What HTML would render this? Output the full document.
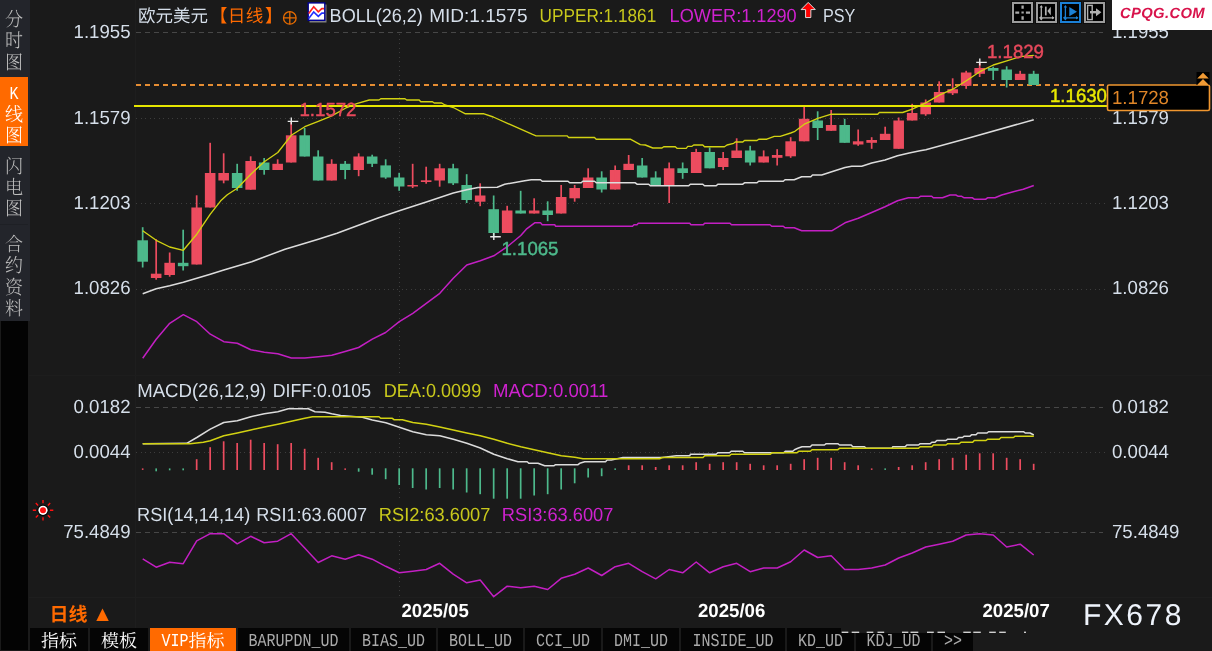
<!DOCTYPE html>
<html lang="zh-CN">
<head>
<meta charset="utf-8">
<title>欧元美元 日线</title>
<style>
html,body{margin:0;padding:0;background:#1a1a1a;}
body{width:1212px;height:651px;overflow:hidden;position:relative;font-family:"Liberation Sans", "Noto Sans CJK SC", sans-serif;text-rendering:geometricPrecision;}
#chart{position:absolute;left:0;top:0;width:1212px;height:651px;font-family:"Liberation Sans", "Noto Sans CJK SC", sans-serif;text-rendering:geometricPrecision;}
#side{position:absolute;left:0;top:0;width:29.5px;height:321px;background:#23252b;}
#sideblk{position:absolute;left:1px;top:321px;width:27px;height:329px;background:#030303;}
.stab{position:absolute;left:0;width:28px;box-sizing:border-box;color:#bdbdbd;font-family:"Liberation Serif", "Noto Serif CJK SC", serif;font-size:18px;font-weight:300;text-align:center;}
.stab span{display:block;height:21.25px;line-height:21.25px;transform:scaleY(1.07);transform-origin:50% 45%;}
  .stab span.k{position:relative;top:1.5px;font-family:"Liberation Mono",monospace;font-size:15px;transform:scaleY(1.22);transform-origin:50% 62%;}
.stab.act{background:#ff6a00;color:#fff;}
#tabbar{position:absolute;left:28px;top:628px;width:945px;height:23px;background:#1a1a1a;}
.btab{position:absolute;top:628px;height:23px;font-family:"Liberation Serif", "Noto Serif CJK SC", serif;font-size:18px;line-height:26px;text-align:center;white-space:nowrap;overflow:hidden;}
.btab i{display:inline-block;position:relative;top:-1.5px;font-style:normal;font-family:"Liberation Mono",monospace;font-size:15px;transform:scaleY(1.22);transform-origin:50% 62%;}
#cover{position:absolute;left:841px;top:628px;width:371px;height:5px;background:#1a1a1a;}
#period{position:absolute;left:49.5px;top:604.2px;height:24px;line-height:24px;color:#ff6a00;font-family:"Liberation Sans", "Noto Sans CJK SC", sans-serif;font-weight:bold;font-size:19px;white-space:nowrap;}
#logo{position:absolute;left:1112px;top:0;width:100px;height:30px;background:#fff;color:#d8134b;font-style:italic;font-weight:bold;font-size:14.8px;line-height:28.4px;text-align:center;letter-spacing:0.35px;text-indent:1px;}
#wm{position:absolute;left:1083px;top:599.4px;height:34px;line-height:34px;color:#eef3fb;font-size:30px;letter-spacing:2.5px;white-space:nowrap;}
.tb{position:absolute;top:2px;width:21px;height:21px;box-sizing:border-box;border:2px solid #9c9c9c;background:#000;box-shadow:0 0 0 1px #0d0d0d;}
.tb svg{position:absolute;left:-2px;top:-2px;}
</style>
</head>
<body>
<svg id="chart" width="1212" height="651" viewBox="0 0 1212 651">
<g shape-rendering="crispEdges">
<line x1="136" y1="32.5" x2="1103" y2="32.5" stroke="#474747" stroke-width="1" stroke-dasharray="5 4"/>
<line x1="136" y1="118.5" x2="1106" y2="118.5" stroke="#3d3d3d" stroke-width="1" stroke-dasharray="1.2 3.3"/>
<line x1="136" y1="203.5" x2="1106" y2="203.5" stroke="#3d3d3d" stroke-width="1" stroke-dasharray="1.2 3.3"/>
<line x1="136" y1="289.5" x2="1106" y2="289.5" stroke="#3d3d3d" stroke-width="1" stroke-dasharray="1.2 3.3"/>
<line x1="136" y1="407.5" x2="1103" y2="407.5" stroke="#474747" stroke-width="1" stroke-dasharray="5 4"/>
<line x1="136" y1="452.5" x2="1106" y2="452.5" stroke="#3d3d3d" stroke-width="1" stroke-dasharray="1.2 3.3"/>
<line x1="136" y1="532.5" x2="1103" y2="532.5" stroke="#474747" stroke-width="1" stroke-dasharray="5 4"/>
<line x1="399.5" y1="34" x2="399.5" y2="375" stroke="#3d3d3d" stroke-width="1" stroke-dasharray="1.2 3.3"/>
<line x1="399.5" y1="411" x2="399.5" y2="498" stroke="#3d3d3d" stroke-width="1" stroke-dasharray="1.2 3.3"/>
<line x1="399.5" y1="536" x2="399.5" y2="597" stroke="#3d3d3d" stroke-width="1" stroke-dasharray="1.2 3.3"/>
<line x1="135.5" y1="0" x2="135.5" y2="628" stroke="#1e1e1e" stroke-width="1"/>
<line x1="29" y1="375.5" x2="1212" y2="375.5" stroke="#1d1d1d" stroke-width="1"/>
<line x1="29" y1="597.5" x2="1212" y2="597.5" stroke="#1e1e1e" stroke-width="1"/>
</g>
<line x1="136" y1="85" x2="1107" y2="85" stroke="#e58d33" stroke-width="2" stroke-dasharray="5 4" shape-rendering="crispEdges"/>
<rect x="137.37" y="240.3" width="10.6" height="21.4" fill="#4db98b"/>
<rect x="150.87" y="273.7" width="10.6" height="4.3" fill="#ec4c5f"/>
<rect x="164.37" y="262.8" width="10.6" height="12.2" fill="#ec4c5f"/>
<rect x="177.87" y="262.8" width="10.6" height="3.4" fill="#4db98b"/>
<rect x="191.37" y="207.5" width="10.6" height="57" fill="#ec4c5f"/>
<rect x="204.87" y="173" width="10.6" height="34.5" fill="#ec4c5f"/>
<rect x="218.37" y="173" width="10.6" height="7.5" fill="#ec4c5f"/>
<rect x="231.87" y="173" width="10.6" height="15" fill="#4db98b"/>
<rect x="245.37" y="161" width="10.6" height="28.7" fill="#ec4c5f"/>
<rect x="258.87" y="162.5" width="10.6" height="7.5" fill="#4db98b"/>
<rect x="272.37" y="163.8" width="10.6" height="6.2" fill="#ec4c5f"/>
<rect x="285.87" y="135.3" width="10.6" height="27.2" fill="#ec4c5f"/>
<rect x="299.37" y="135.3" width="10.6" height="21.2" fill="#4db98b"/>
<rect x="312.87" y="156.5" width="10.6" height="24" fill="#4db98b"/>
<rect x="326.37" y="163.8" width="10.6" height="16.7" fill="#ec4c5f"/>
<rect x="339.87" y="163.8" width="10.6" height="6.2" fill="#4db98b"/>
<rect x="353.37" y="156.5" width="10.6" height="13.5" fill="#ec4c5f"/>
<rect x="366.87" y="156.5" width="10.6" height="7.3" fill="#4db98b"/>
<rect x="380.37" y="165.4" width="10.6" height="12.1" fill="#4db98b"/>
<rect x="393.87" y="177.5" width="10.6" height="9" fill="#4db98b"/>
<rect x="407.37" y="185" width="10.6" height="1.5" fill="#ec4c5f"/>
<rect x="420.87" y="180.3" width="10.6" height="1.7" fill="#ec4c5f"/>
<rect x="434.37" y="168.3" width="10.6" height="12.2" fill="#ec4c5f"/>
<rect x="447.87" y="168.3" width="10.6" height="15" fill="#4db98b"/>
<rect x="461.37" y="185" width="10.6" height="15" fill="#4db98b"/>
<rect x="474.87" y="195.5" width="10.6" height="6.2" fill="#ec4c5f"/>
<rect x="488.37" y="209.2" width="10.6" height="23.8" fill="#4db98b"/>
<rect x="501.87" y="210.5" width="10.6" height="22.5" fill="#ec4c5f"/>
<rect x="515.37" y="210.5" width="10.6" height="3" fill="#4db98b"/>
<rect x="528.87" y="210.5" width="10.6" height="3" fill="#ec4c5f"/>
<rect x="542.37" y="210.5" width="10.6" height="4.5" fill="#4db98b"/>
<rect x="555.87" y="197" width="10.6" height="16.5" fill="#ec4c5f"/>
<rect x="569.37" y="188" width="10.6" height="10.3" fill="#ec4c5f"/>
<rect x="582.87" y="177.5" width="10.6" height="10.5" fill="#ec4c5f"/>
<rect x="596.37" y="177.5" width="10.6" height="12" fill="#4db98b"/>
<rect x="609.87" y="170" width="10.6" height="19.5" fill="#ec4c5f"/>
<rect x="623.37" y="163.8" width="10.6" height="6.2" fill="#ec4c5f"/>
<rect x="636.87" y="165.5" width="10.6" height="12" fill="#4db98b"/>
<rect x="650.37" y="177.5" width="10.6" height="7.5" fill="#4db98b"/>
<rect x="663.87" y="168.3" width="10.6" height="16.7" fill="#ec4c5f"/>
<rect x="677.37" y="168.3" width="10.6" height="4.7" fill="#4db98b"/>
<rect x="690.87" y="152" width="10.6" height="21" fill="#ec4c5f"/>
<rect x="704.37" y="152" width="10.6" height="16.3" fill="#4db98b"/>
<rect x="717.87" y="158" width="10.6" height="9" fill="#ec4c5f"/>
<rect x="731.37" y="150.5" width="10.6" height="7.5" fill="#ec4c5f"/>
<rect x="744.87" y="150.5" width="10.6" height="12" fill="#4db98b"/>
<rect x="758.37" y="156.4" width="10.6" height="6.1" fill="#ec4c5f"/>
<rect x="771.87" y="155" width="10.6" height="2.8" fill="#ec4c5f"/>
<rect x="785.37" y="141.3" width="10.6" height="15" fill="#ec4c5f"/>
<rect x="798.87" y="118.8" width="10.6" height="22.5" fill="#ec4c5f"/>
<rect x="812.37" y="120.5" width="10.6" height="7.5" fill="#4db98b"/>
<rect x="825.87" y="125" width="10.6" height="5.8" fill="#ec4c5f"/>
<rect x="839.37" y="125" width="10.6" height="17.8" fill="#4db98b"/>
<rect x="852.87" y="141.3" width="10.6" height="3.2" fill="#ec4c5f"/>
<rect x="866.37" y="140" width="10.6" height="2.8" fill="#ec4c5f"/>
<rect x="879.87" y="133.8" width="10.6" height="6.2" fill="#ec4c5f"/>
<rect x="893.37" y="120.5" width="10.6" height="28.3" fill="#ec4c5f"/>
<rect x="906.87" y="113" width="10.6" height="7.5" fill="#ec4c5f"/>
<rect x="920.37" y="102.5" width="10.6" height="11.8" fill="#ec4c5f"/>
<rect x="933.87" y="92" width="10.6" height="10.5" fill="#ec4c5f"/>
<rect x="947.37" y="89.2" width="10.6" height="4.1" fill="#ec4c5f"/>
<rect x="960.87" y="72.5" width="10.6" height="13.3" fill="#ec4c5f"/>
<rect x="974.37" y="68" width="10.6" height="5.8" fill="#ec4c5f"/>
<rect x="987.87" y="68" width="10.6" height="2.8" fill="#4db98b"/>
<rect x="1001.37" y="69.5" width="10.6" height="10.5" fill="#4db98b"/>
<rect x="1014.87" y="73.8" width="10.6" height="6.2" fill="#ec4c5f"/>
<rect x="1028.37" y="73.8" width="10.6" height="11.2" fill="#4db98b"/>
<rect x="141.82" y="227.2" width="1.7" height="40.3" fill="#4db98b"/>
<rect x="155.32" y="239.2" width="1.7" height="40.5" fill="#ec4c5f"/>
<rect x="168.82" y="252.5" width="1.7" height="24.2" fill="#ec4c5f"/>
<rect x="182.32" y="229.7" width="1.7" height="40.8" fill="#4db98b"/>
<rect x="195.82" y="195.3" width="1.7" height="69.2" fill="#ec4c5f"/>
<rect x="209.32" y="142.8" width="1.7" height="64.7" fill="#ec4c5f"/>
<rect x="222.82" y="153.3" width="1.7" height="30" fill="#ec4c5f"/>
<rect x="236.32" y="163.8" width="1.7" height="27" fill="#4db98b"/>
<rect x="249.82" y="156.3" width="1.7" height="33.4" fill="#ec4c5f"/>
<rect x="263.32" y="158" width="1.7" height="16.7" fill="#4db98b"/>
<rect x="276.82" y="159.3" width="1.7" height="10.7" fill="#ec4c5f"/>
<rect x="290.32" y="122" width="1.7" height="40.5" fill="#ec4c5f"/>
<rect x="303.82" y="128" width="1.7" height="28.5" fill="#4db98b"/>
<rect x="317.32" y="150.3" width="1.7" height="30.2" fill="#4db98b"/>
<rect x="330.82" y="159.3" width="1.7" height="21.2" fill="#ec4c5f"/>
<rect x="344.32" y="161" width="1.7" height="18.2" fill="#4db98b"/>
<rect x="357.82" y="153.3" width="1.7" height="22.9" fill="#ec4c5f"/>
<rect x="371.32" y="154.7" width="1.7" height="12.3" fill="#4db98b"/>
<rect x="384.82" y="159.3" width="1.7" height="19.5" fill="#4db98b"/>
<rect x="398.32" y="172.8" width="1.7" height="18" fill="#4db98b"/>
<rect x="411.82" y="163.8" width="1.7" height="24.2" fill="#ec4c5f"/>
<rect x="425.32" y="166.7" width="1.7" height="17" fill="#ec4c5f"/>
<rect x="438.82" y="163.8" width="1.7" height="22.9" fill="#ec4c5f"/>
<rect x="452.32" y="163.8" width="1.7" height="21.2" fill="#4db98b"/>
<rect x="465.82" y="174.2" width="1.7" height="28.8" fill="#4db98b"/>
<rect x="479.32" y="183.3" width="1.7" height="22.9" fill="#ec4c5f"/>
<rect x="492.82" y="195.5" width="1.7" height="40.3" fill="#4db98b"/>
<rect x="506.32" y="205.8" width="1.7" height="27.2" fill="#ec4c5f"/>
<rect x="519.82" y="190.8" width="1.7" height="22.7" fill="#4db98b"/>
<rect x="533.32" y="198.3" width="1.7" height="15.2" fill="#ec4c5f"/>
<rect x="546.82" y="201.3" width="1.7" height="19.9" fill="#4db98b"/>
<rect x="560.32" y="185" width="1.7" height="28.5" fill="#ec4c5f"/>
<rect x="573.82" y="185" width="1.7" height="16.7" fill="#ec4c5f"/>
<rect x="587.32" y="168.3" width="1.7" height="19.7" fill="#ec4c5f"/>
<rect x="600.82" y="171.3" width="1.7" height="21.2" fill="#4db98b"/>
<rect x="614.32" y="165.5" width="1.7" height="24" fill="#ec4c5f"/>
<rect x="627.82" y="155" width="1.7" height="15" fill="#ec4c5f"/>
<rect x="641.32" y="158" width="1.7" height="19.5" fill="#4db98b"/>
<rect x="654.82" y="171.3" width="1.7" height="13.7" fill="#4db98b"/>
<rect x="668.32" y="162.5" width="1.7" height="40.5" fill="#ec4c5f"/>
<rect x="681.82" y="162.5" width="1.7" height="16.3" fill="#4db98b"/>
<rect x="695.32" y="148.8" width="1.7" height="24.2" fill="#ec4c5f"/>
<rect x="708.82" y="147.5" width="1.7" height="20.8" fill="#4db98b"/>
<rect x="722.32" y="152" width="1.7" height="18" fill="#ec4c5f"/>
<rect x="735.82" y="138.3" width="1.7" height="19.7" fill="#ec4c5f"/>
<rect x="749.32" y="145.8" width="1.7" height="19.7" fill="#4db98b"/>
<rect x="762.82" y="150.4" width="1.7" height="12.1" fill="#ec4c5f"/>
<rect x="776.32" y="149.2" width="1.7" height="16.3" fill="#ec4c5f"/>
<rect x="789.82" y="137.2" width="1.7" height="20.6" fill="#ec4c5f"/>
<rect x="803.32" y="106.7" width="1.7" height="34.6" fill="#ec4c5f"/>
<rect x="816.82" y="111.3" width="1.7" height="28.7" fill="#4db98b"/>
<rect x="830.32" y="110" width="1.7" height="20.8" fill="#ec4c5f"/>
<rect x="843.82" y="118.8" width="1.7" height="24" fill="#4db98b"/>
<rect x="857.32" y="129.5" width="1.7" height="16.3" fill="#ec4c5f"/>
<rect x="870.82" y="137.2" width="1.7" height="11.6" fill="#ec4c5f"/>
<rect x="884.32" y="126.7" width="1.7" height="13.3" fill="#ec4c5f"/>
<rect x="897.82" y="117.5" width="1.7" height="31.3" fill="#ec4c5f"/>
<rect x="911.32" y="103.8" width="1.7" height="16.7" fill="#ec4c5f"/>
<rect x="924.82" y="99.5" width="1.7" height="16.3" fill="#ec4c5f"/>
<rect x="938.32" y="81.3" width="1.7" height="21.2" fill="#ec4c5f"/>
<rect x="951.82" y="78.3" width="1.7" height="16.7" fill="#ec4c5f"/>
<rect x="965.32" y="70.8" width="1.7" height="18" fill="#ec4c5f"/>
<rect x="978.82" y="62.5" width="1.7" height="14.5" fill="#ec4c5f"/>
<rect x="992.32" y="66.7" width="1.7" height="13.3" fill="#4db98b"/>
<rect x="1005.82" y="66.3" width="1.7" height="21.2" fill="#4db98b"/>
<rect x="1019.32" y="70.8" width="1.7" height="9.2" fill="#ec4c5f"/>
<rect x="1032.82" y="70.8" width="1.7" height="14.2" fill="#4db98b"/>
<polyline points="142.7,293.8 156.2,288.8 169.7,285.8 183.3,282.2 196.8,278.3 210.3,274.2 223.8,270 251.7,261.7 285,249.2 301.7,244.2 318.3,239.2 337,233.3 378,218 399.3,210.8 426.3,202 453.3,193 466.8,189.7 478,187.5 497.2,187.2 504.7,184.2 524.7,180.8 531.3,179.7 540.5,179.7 542.2,181.2 568,181.2 569.7,182.8 581.2,182.8 582.8,181.3 594.5,181.3 596.2,182.8 635.3,182.8 637,184.2 648.7,184.2 650.3,185.8 688.7,185.8 690.3,184.2 702.8,184.2 704.5,185.8 716.2,185.8 717.8,184.2 742.8,184.2 744.5,182.8 757,182.8 758.7,181.3 783.3,181.2 785,179.7 794.2,179.7 801.7,176.7 810.8,176.7 812.5,175 821.7,175 831.7,171.7 845,167.5 851.7,166.2 861.7,166.2 871.7,163 885,160 897.5,155.8 909.2,153 920,150.8 925.8,149.7 968.8,138 1033.8,119.7" fill="none" stroke="#dcdcdc" stroke-width="1.5" stroke-linejoin="round" />
<polyline points="142.7,358.3 156.2,339.2 169.7,323.3 183.3,314.7 196.8,321.7 210.3,334.2 223.8,341.7 237.3,343.3 250.8,349.7 264.3,352.2 277.8,353.8 291.3,358 304.8,358 318.3,356.7 331.8,355.3 345.1,351.5 358.6,347.5 372.3,339.2 385.6,332.5 399.3,321.7 412.8,313.3 426.3,303.3 439.8,293.3 453.3,278.3 466.8,265 480.3,260.8 493.8,255.8 507.3,246.7 520.8,235.5 526.3,229.2 534.7,222.8 540.5,222.8 542.2,224.7 554.7,224.7 555.5,226.2 632.5,226.2 634,224.7 637,224.7 638.3,223.3 689.7,223.3 691,224.7 703.3,224.7 704.6,223.3 730,223.3 731.5,224.7 770,224.7 771.7,226.2 783.3,226.2 785,227.8 794.2,227.8 801.7,230.8 831.7,230.8 845,222.8 858.3,218.3 871.7,212.5 885,206.7 897.5,200.8 908.3,197.8 918.3,197.8 920.8,196.2 931.7,196.2 933.3,197.8 942.5,197.8 950,195 955.8,195 958.3,196.3 961.7,196.3 964.2,197.8 972.5,197.8 974.2,199.2 985.8,199.2 987.5,197.8 995,197.8 1001.7,195 1013.3,191.7 1023.3,189.2 1033.8,185.5" fill="none" stroke="#c31fc3" stroke-width="1.5" stroke-linejoin="round" />
<polyline points="142.7,230.8 156.2,240.3 169.7,247 183.3,250.3 196.8,234.2 210.3,214.2 220.7,200.8 227.3,194.7 237.3,188.3 250.8,174.2 264.3,161.7 277.8,152.5 291.3,135.3 304.8,126.7 318.3,121.3 331.8,115.8 346.7,107.5 356.7,103.7 369.2,100 379,100 380.8,98.7 405,98.7 406.7,100 419.2,100 420.8,101.7 432.5,101.7 434.2,103 441.7,103 445,105 453.3,107.5 465,113.7 483.3,113.7 493.3,117 532,134.2 536,135.8 567,135.8 568.7,137.5 594.5,137.5 596.2,139.2 630.3,139.2 640.3,144.7 645.3,145 652.8,148 662,148 663.7,146.7 675.3,146.7 677,148.3 686.2,148.3 687.8,146.3 692,146.3 693.7,145 702.8,145 704.5,146.7 724.5,146.7 727,145 733.7,143.3 735.3,142 742.8,142 744.5,140.5 757,140.5 758.7,139.2 766.8,139.2 774.3,136.3 780.2,136.3 790.7,133 794.3,131.7 804.3,124.2 817.8,118.3 831.3,114.2 877.7,114.2 879.3,112.5 902.7,112.5 912.3,109.2 925.8,102.8 939.3,95.2 952.8,89.2 966.3,80.8 979.8,71.7 993.3,65 1006.8,60.8 1020.3,56.7 1033.8,55.3" fill="none" stroke="#d2d212" stroke-width="1.35" stroke-linejoin="round" />
<rect x="134" y="105" width="973" height="2" fill="#e6e600" shape-rendering="crispEdges"/>
<path d="M287.7 121.4H298.3M291.3 117.60000000000001V124.60000000000001" stroke="#e8e8e8" stroke-width="1.4" fill="none"/>
<path d="M490.2 236.7H500.8M493.8 232.89999999999998V239.89999999999998" stroke="#e8e8e8" stroke-width="1.4" fill="none"/>
<path d="M976.1999999999999 62.4H986.8M979.8 58.6V65.6" stroke="#e8e8e8" stroke-width="1.4" fill="none"/>
<rect x="141.87" y="468.4" width="1.6" height="1.5" fill="#ec4c5f"/>
<rect x="155.37" y="468.4" width="1.6" height="2.9" fill="#4db98b"/>
<rect x="168.87" y="468.4" width="1.6" height="1.9" fill="#4db98b"/>
<rect x="182.37" y="468.4" width="1.6" height="1.9" fill="#4db98b"/>
<rect x="195.82" y="459.2" width="1.7" height="10.8" fill="#ec4c5f"/>
<rect x="209.32" y="447.2" width="1.7" height="22.8" fill="#ec4c5f"/>
<rect x="222.82" y="441.3" width="1.7" height="28.7" fill="#ec4c5f"/>
<rect x="236.32" y="443" width="1.7" height="27" fill="#ec4c5f"/>
<rect x="249.82" y="439.7" width="1.7" height="30.3" fill="#ec4c5f"/>
<rect x="263.32" y="443" width="1.7" height="27" fill="#ec4c5f"/>
<rect x="276.82" y="444.2" width="1.7" height="25.8" fill="#ec4c5f"/>
<rect x="290.32" y="443" width="1.7" height="27" fill="#ec4c5f"/>
<rect x="303.82" y="448.8" width="1.7" height="21.2" fill="#ec4c5f"/>
<rect x="317.32" y="457.8" width="1.7" height="12.2" fill="#ec4c5f"/>
<rect x="330.82" y="462.2" width="1.7" height="7.8" fill="#ec4c5f"/>
<rect x="344.37" y="468.4" width="1.6" height="1.5" fill="#ec4c5f"/>
<rect x="357.82" y="468.3" width="1.7" height="3.4" fill="#4db98b"/>
<rect x="371.32" y="468.3" width="1.7" height="6.4" fill="#4db98b"/>
<rect x="384.82" y="468.3" width="1.7" height="10.9" fill="#4db98b"/>
<rect x="398.32" y="468.3" width="1.7" height="16.7" fill="#4db98b"/>
<rect x="411.82" y="468.3" width="1.7" height="19.7" fill="#4db98b"/>
<rect x="425.32" y="468.3" width="1.7" height="21.2" fill="#4db98b"/>
<rect x="438.82" y="468.3" width="1.7" height="19.7" fill="#4db98b"/>
<rect x="452.32" y="468.3" width="1.7" height="21.2" fill="#4db98b"/>
<rect x="465.82" y="468.3" width="1.7" height="24.2" fill="#4db98b"/>
<rect x="479.32" y="468.3" width="1.7" height="25.9" fill="#4db98b"/>
<rect x="492.82" y="468.3" width="1.7" height="30.4" fill="#4db98b"/>
<rect x="506.32" y="468.3" width="1.7" height="30.4" fill="#4db98b"/>
<rect x="519.82" y="468.3" width="1.7" height="30.4" fill="#4db98b"/>
<rect x="533.32" y="468.3" width="1.7" height="27.2" fill="#4db98b"/>
<rect x="546.82" y="468.3" width="1.7" height="25.9" fill="#4db98b"/>
<rect x="560.32" y="468.3" width="1.7" height="21.2" fill="#4db98b"/>
<rect x="573.82" y="468.3" width="1.7" height="15" fill="#4db98b"/>
<rect x="587.32" y="468.3" width="1.7" height="9.2" fill="#4db98b"/>
<rect x="600.82" y="468.3" width="1.7" height="7.9" fill="#4db98b"/>
<rect x="614.37" y="468.4" width="1.6" height="1.5" fill="#4db98b"/>
<rect x="627.82" y="465.3" width="1.7" height="4.7" fill="#ec4c5f"/>
<rect x="641.32" y="465.3" width="1.7" height="4.7" fill="#ec4c5f"/>
<rect x="654.82" y="467" width="1.7" height="3" fill="#ec4c5f"/>
<rect x="668.32" y="465.3" width="1.7" height="4.7" fill="#ec4c5f"/>
<rect x="681.82" y="465.3" width="1.7" height="4.7" fill="#ec4c5f"/>
<rect x="695.32" y="462.2" width="1.7" height="7.8" fill="#ec4c5f"/>
<rect x="708.82" y="463.8" width="1.7" height="6.2" fill="#ec4c5f"/>
<rect x="722.32" y="462.2" width="1.7" height="7.8" fill="#ec4c5f"/>
<rect x="735.82" y="462.2" width="1.7" height="7.8" fill="#ec4c5f"/>
<rect x="749.32" y="463.8" width="1.7" height="6.2" fill="#ec4c5f"/>
<rect x="762.82" y="465.3" width="1.7" height="4.7" fill="#ec4c5f"/>
<rect x="776.32" y="465.3" width="1.7" height="4.7" fill="#ec4c5f"/>
<rect x="789.82" y="463.8" width="1.7" height="6.2" fill="#ec4c5f"/>
<rect x="803.32" y="459.2" width="1.7" height="10.8" fill="#ec4c5f"/>
<rect x="816.82" y="457.8" width="1.7" height="12.2" fill="#ec4c5f"/>
<rect x="830.32" y="457.8" width="1.7" height="12.2" fill="#ec4c5f"/>
<rect x="843.82" y="462.2" width="1.7" height="7.8" fill="#ec4c5f"/>
<rect x="857.32" y="465.3" width="1.7" height="4.7" fill="#ec4c5f"/>
<rect x="870.87" y="468.4" width="1.6" height="1.5" fill="#ec4c5f"/>
<rect x="884.37" y="468.4" width="1.6" height="1.5" fill="#4db98b"/>
<rect x="897.82" y="467" width="1.7" height="3" fill="#ec4c5f"/>
<rect x="911.32" y="465.3" width="1.7" height="4.7" fill="#ec4c5f"/>
<rect x="924.82" y="462.2" width="1.7" height="7.8" fill="#ec4c5f"/>
<rect x="938.32" y="459.2" width="1.7" height="10.8" fill="#ec4c5f"/>
<rect x="951.82" y="457.8" width="1.7" height="12.2" fill="#ec4c5f"/>
<rect x="965.32" y="454.7" width="1.7" height="15.3" fill="#ec4c5f"/>
<rect x="978.82" y="453.3" width="1.7" height="16.7" fill="#ec4c5f"/>
<rect x="992.32" y="453.3" width="1.7" height="16.7" fill="#ec4c5f"/>
<rect x="1005.82" y="457.8" width="1.7" height="12.2" fill="#ec4c5f"/>
<rect x="1019.32" y="459.2" width="1.7" height="10.8" fill="#ec4c5f"/>
<rect x="1032.82" y="463.8" width="1.7" height="6.2" fill="#ec4c5f"/>
<polyline points="142.7,443.8 186.7,443.3 196.8,437.5 210.3,429.2 223.8,422.5 237.3,420.8 250.8,416.7 264.3,413.7 277.8,411.7 288.3,408.8 308.3,408.8 315,411.7 325,412.2 331.7,413.7 340.7,415.5 362.3,417.2 372.3,420 385.8,422.8 399.3,427.2 412.8,431.7 426.3,434.7 439.8,435.8 453.3,439.2 466.8,443.3 480.3,448 493.8,454.2 507.3,458.7 518,461.7 527.2,461.7 528.8,463.3 538,463.3 544.7,465.8 553.8,465.8 555.5,464.7 578,464.7 579.7,463.3 584.7,461.7 605.5,461.7 607.2,460 611.3,460 623,457.5 662.2,457.5 676.3,455.8 689.7,455.8 690.5,454.2 716.2,454.2 717.8,452.8 729.5,452.8 731.2,451.3 742.8,451.3 744.5,452.8 783.7,452.8 785.3,451.3 792.8,451.3 794.5,449.7 797.8,448.3 802,446.7 810.3,446.7 812,445 824.5,445 826.2,443.7 837.8,443.7 839.5,445 851.2,445 852.8,446.7 864.5,446.7 866.2,448.3 892,448.3 892.8,446.7 905.2,446.7 906.8,445 918.5,445 920.2,443.7 930.2,443.7 931.8,442.2 935,442.2 936.8,440.5 946,440.5 947.7,439.2 956.8,439.2 958.5,437.5 962.5,437.5 964.3,436.2 970,436.2 971.8,434.7 976,434.7 977.7,433 987,433 988.5,431.7 1023.5,431.7 1025.2,433 1030,433 1033.8,435" fill="none" stroke="#dcdcdc" stroke-width="1.5" stroke-linejoin="round" />
<polyline points="142.7,443.8 190,443.8 203.3,442.2 210.3,440.8 223.8,435.8 237.3,433 250.8,430 264.3,427 277.8,424.2 291.3,421.2 304.8,418.3 312.5,416.7 379,416.7 380.7,418.3 392.3,418.3 394,419.7 402.3,419.7 412.8,422.5 426.3,424.2 439.8,427 453.3,430 466.8,433 480.3,435.8 493.8,439.2 507.3,443.3 520.8,446.7 534.2,449.7 547.7,452.8 561.3,455.8 574.8,457.2 583,458.7 660,458.7 662,457.5 703,457.5 704.7,455.8 729.5,455.8 731.2,454.2 770.3,454.2 772,452.8 797,452.8 798.7,451.3 810.3,451.3 812,449.7 837.8,449.7 839.5,448.3 918.5,448.3 920.2,446.7 931.8,446.7 933.5,445 946,445 947.7,443.7 959.3,443.7 961,442.2 972.7,442.2 974.3,440.5 986,440.5 987.7,439.2 999.3,439.2 1001,437.5 1013.5,437.5 1015.2,436.2 1033.8,436.2" fill="none" stroke="#d2d212" stroke-width="1.5" stroke-linejoin="round" />
<polyline points="142.7,558.8 156.2,567.2 169.7,562.2 183.2,563.7 196.7,540.8 210.2,533.7 223.7,533.7 237.2,543.8 250.7,536.3 264.2,542.8 277.7,541.2 291.2,533.7 304.7,548 318.2,562.5 331.7,555.8 345.2,559.2 358.7,554.7 372.2,559.2 385.7,566.3 399.2,572.8 412.7,571.2 426.2,569.5 439.7,563.3 453.2,574.2 466.7,582.8 480.2,580 493.7,596.7 507.2,586.2 520.7,587.8 534.2,586.2 547.7,589.5 561.2,578.3 574.7,574.2 588.2,568 601.7,575.5 615.2,566.7 628.7,563.3 642.2,571.7 655.7,578.8 669.2,569.5 682.7,572.8 696.2,562 709.7,572.8 723.2,566.7 736.7,563.3 750.2,571.7 763.7,568 777.2,568 790.7,561.7 804.2,550 817.7,557.5 831.2,555.8 844.7,569.5 858.2,569.5 871.7,568 885.2,565 898.7,558 912.2,553 925.7,547 939.2,544.2 952.7,541.2 966.2,535 979.7,533.7 993.2,535 1006.7,547 1020.2,544.2 1033.7,555" fill="none" stroke="#c31fc3" stroke-width="1.5" stroke-linejoin="round" />
<text transform="translate(130.5,38) scale(0.98,1)" fill="#d6dfea" font-size="19" font-weight="normal" text-anchor="end" >1.1955</text>
<text transform="translate(1112,38) scale(0.98,1)" fill="#d6dfea" font-size="19" font-weight="normal" text-anchor="start" >1.1955</text>
<text transform="translate(130.5,123.6) scale(0.98,1)" fill="#d6dfea" font-size="19" font-weight="normal" text-anchor="end" >1.1579</text>
<text transform="translate(1112,123.6) scale(0.98,1)" fill="#d6dfea" font-size="19" font-weight="normal" text-anchor="start" >1.1579</text>
<text transform="translate(130.5,208.8) scale(0.98,1)" fill="#d6dfea" font-size="19" font-weight="normal" text-anchor="end" >1.1203</text>
<text transform="translate(1112,208.8) scale(0.98,1)" fill="#d6dfea" font-size="19" font-weight="normal" text-anchor="start" >1.1203</text>
<text transform="translate(130.5,294.3) scale(0.98,1)" fill="#d6dfea" font-size="19" font-weight="normal" text-anchor="end" >1.0826</text>
<text transform="translate(1112,294.3) scale(0.98,1)" fill="#d6dfea" font-size="19" font-weight="normal" text-anchor="start" >1.0826</text>
<text transform="translate(130.5,413.3) scale(0.98,1)" fill="#d6dfea" font-size="19" font-weight="normal" text-anchor="end" >0.0182</text>
<text transform="translate(1112,413.3) scale(0.98,1)" fill="#d6dfea" font-size="19" font-weight="normal" text-anchor="start" >0.0182</text>
<text transform="translate(130.5,458.2) scale(0.98,1)" fill="#d6dfea" font-size="19" font-weight="normal" text-anchor="end" >0.0044</text>
<text transform="translate(1112,458.2) scale(0.98,1)" fill="#d6dfea" font-size="19" font-weight="normal" text-anchor="start" >0.0044</text>
<text transform="translate(130.5,537.5) scale(0.98,1)" fill="#d6dfea" font-size="19" font-weight="normal" text-anchor="end" >75.4849</text>
<text transform="translate(1112,537.5) scale(0.98,1)" fill="#d6dfea" font-size="19" font-weight="normal" text-anchor="start" >75.4849</text>
<text transform="translate(138,21.6) scale(1.0001,1)" fill="#d6dfea" font-size="17.5" font-weight="normal" text-anchor="start" textLength="70" lengthAdjust="spacing" >欧元美元</text>
<text y="21.6" x="209.8 227.8 245.8 265" fill="#ff6a00" font-size="17.6">【日线】</text>
<text transform="translate(329.6,21.7) scale(0.98,1)" fill="#d6dfea" font-size="19" font-weight="normal" text-anchor="start" textLength="95.2" lengthAdjust="spacingAndGlyphs" >BOLL(26,2)</text>
<text transform="translate(429.2,21.7) scale(0.98,1)" fill="#d6dfea" font-size="19" font-weight="normal" text-anchor="start" textLength="100.3" lengthAdjust="spacingAndGlyphs" >MID:1.1575</text>
<text transform="translate(539.6,21.7) scale(0.98,1)" fill="#c9c91c" font-size="19" font-weight="normal" text-anchor="start" textLength="119.0" lengthAdjust="spacingAndGlyphs" >UPPER:1.1861</text>
<text transform="translate(669.6,21.7) scale(0.98,1)" fill="#cf22cf" font-size="19" font-weight="normal" text-anchor="start" textLength="129.7" lengthAdjust="spacingAndGlyphs" >LOWER:1.1290</text>
<text transform="translate(823,21.7) scale(0.98,1)" fill="#d6dfea" font-size="19" font-weight="normal" text-anchor="start" textLength="33.1" lengthAdjust="spacingAndGlyphs" >PSY</text>
<text transform="translate(137.2,396.7) scale(0.98,1)" fill="#d6dfea" font-size="19" font-weight="normal" text-anchor="start" textLength="131.7" lengthAdjust="spacingAndGlyphs" >MACD(26,12,9)</text>
<text transform="translate(272.8,396.7) scale(0.98,1)" fill="#d6dfea" font-size="19" font-weight="normal" text-anchor="start" textLength="100.2" lengthAdjust="spacingAndGlyphs" >DIFF:0.0105</text>
<text transform="translate(383.8,396.7) scale(0.98,1)" fill="#c9c91c" font-size="19" font-weight="normal" text-anchor="start" textLength="99.4" lengthAdjust="spacingAndGlyphs" >DEA:0.0099</text>
<text transform="translate(493,396.7) scale(0.98,1)" fill="#cf22cf" font-size="19" font-weight="normal" text-anchor="start" textLength="117.8" lengthAdjust="spacingAndGlyphs" >MACD:0.0011</text>
<text transform="translate(137,521) scale(0.98,1)" fill="#d6dfea" font-size="19" font-weight="normal" text-anchor="start" textLength="115.6" lengthAdjust="spacingAndGlyphs" >RSI(14,14,14)</text>
<text transform="translate(256.2,521) scale(0.98,1)" fill="#d6dfea" font-size="19" font-weight="normal" text-anchor="start" textLength="113.1" lengthAdjust="spacingAndGlyphs" >RSI1:63.6007</text>
<text transform="translate(378.8,521) scale(0.98,1)" fill="#c9c91c" font-size="19" font-weight="normal" text-anchor="start" textLength="113.9" lengthAdjust="spacingAndGlyphs" >RSI2:63.6007</text>
<text transform="translate(501.8,521) scale(0.98,1)" fill="#cf22cf" font-size="19" font-weight="normal" text-anchor="start" textLength="113.9" lengthAdjust="spacingAndGlyphs" >RSI3:63.6007</text>
<text transform="translate(299.5,116.4) scale(0.98,1)" fill="#e8495c" font-size="19" font-weight="normal" text-anchor="start" stroke="#e8495c" stroke-width="0.45">1.1572</text>
<text transform="translate(501.5,254.5) scale(0.98,1)" fill="#4db98b" font-size="19" font-weight="normal" text-anchor="start" stroke="#4db98b" stroke-width="0.45">1.1065</text>
<text transform="translate(987,57.6) scale(0.98,1)" fill="#e8495c" font-size="19" font-weight="normal" text-anchor="start" stroke="#e8495c" stroke-width="0.45">1.1829</text>
<text transform="translate(1050,101.6) scale(0.98,1)" fill="#e9e900" font-size="19" font-weight="normal" text-anchor="start" stroke="#e9e900" stroke-width="0.45">1.1630</text>
<text transform="translate(401.5,616.8) scale(0.98,1)" fill="#ffffff" font-size="19" font-weight="bold" text-anchor="start" >2025/05</text>
<text transform="translate(698,616.8) scale(0.98,1)" fill="#ffffff" font-size="19" font-weight="bold" text-anchor="start" >2025/06</text>
<text transform="translate(982.5,616.8) scale(0.98,1)" fill="#ffffff" font-size="19" font-weight="bold" text-anchor="start" >2025/07</text>
<g stroke="#e86c00" stroke-width="1.3" fill="none"><circle cx="289.8" cy="17.9" r="6.3"/><path d="M283.5 17.9H296.1M289.8 11.6V24.2"/></g>
<rect x="309.5" y="4.5" width="17" height="18" fill="#808080"/>
<rect x="308.2" y="2.9" width="16.6" height="17.4" fill="#fff" stroke="#000090" stroke-width="1.4"/>
<polyline points="308.7,13.5 313.7,6.8 318.3,11.8 321.8,8.6 324,8.6" fill="none" stroke="#ff2020" stroke-width="1.6"/>
<polyline points="308.7,18.4 313.7,12 318.3,16.4 321.8,13.1 324,13.1" fill="none" stroke="#2030ff" stroke-width="1.6"/>
<path d="M808.2 2.4L815.3 9.6H810.9V17.6H805.6V9.6H801.1Z" fill="#000" transform="translate(1,1)"/>
<path d="M808.2 2.4L815.3 9.6H810.9V17.6H805.6V9.6H801.1Z" fill="#ff0000" stroke="#e0e0e0" stroke-width="1"/>
<g stroke="#ff1010" stroke-width="1.4" fill="none"><path d="M43 500V503.3M43 517.3V520.6M32.8 510.3H36.1M50 510.3H53.3M35.8 503.1L38.1 505.4M47.9 515.2L50.2 517.5M50.2 503.1L47.9 505.4M38.1 515.2L35.8 517.5"/></g>
<circle cx="43" cy="510.3" r="5.6" fill="#000"/><circle cx="43" cy="510.3" r="4.6" fill="#fff"/><circle cx="43" cy="510.3" r="3" fill="#ff1010"/>
<rect x="1107.5" y="85" width="102" height="25.5" rx="1.5" fill="#000" stroke="#f0962f" stroke-width="1.6"/>
<text transform="translate(1112,104.3) scale(0.98,1)" fill="#e08628" font-size="19" font-weight="normal" text-anchor="start" >1.1728</text>
<rect x="1196.5" y="72" width="13" height="13" fill="#000"/>
<path d="M1203 72.8L1208.8 78.4H1197.2Z M1203 79L1209 85H1197Z" fill="#f09a34"/>
</svg>
<div id="side">
<div class="stab" style="top:0px;height:77px;padding-top:10.1px"><span>分</span><span>时</span><span>图</span></div>
<div class="stab act" style="top:77px;height:69px;padding-top:6.9px"><span class="k">K</span><span>线</span><span>图</span></div>
<div class="stab" style="top:146px;height:78px;padding-top:10.8px"><span>闪</span><span>电</span><span>图</span></div>
<div class="stab" style="top:224px;height:97px;padding-top:11.1px"><span>合</span><span>约</span><span>资</span><span>料</span></div>
</div>
<div id="sideblk"></div>
<div style="position:absolute;left:0;top:224px;width:28px;height:1px;background:#1e2025"></div>
<div id="period">日线 <span style="display:inline-block;font-size:17px;transform:scale(1.25,1.25);position:relative;top:-1.2px;left:1.5px">▲</span></div>
<div class="btab" style="left:30px;width:58px;background:#050505;color:#fff">指标</div><div class="btab" style="left:90px;width:58px;background:#050505;color:#fff">模板</div><div class="btab" style="left:150px;width:86px;background:#ff6a00;color:#fff"><i>VIP</i>指标</div><div class="btab" style="left:238px;width:111px;background:#050505;color:#aaa"><i>BARUPDN_UD</i></div><div class="btab" style="left:351px;width:85px;background:#050505;color:#aaa"><i>BIAS_UD</i></div><div class="btab" style="left:438px;width:85px;background:#050505;color:#aaa"><i>BOLL_UD</i></div><div class="btab" style="left:525px;width:76px;background:#050505;color:#aaa"><i>CCI_UD</i></div><div class="btab" style="left:603px;width:76px;background:#050505;color:#aaa"><i>DMI_UD</i></div><div class="btab" style="left:681px;width:104px;background:#050505;color:#aaa"><i>INSIDE_UD</i></div><div class="btab" style="left:787px;width:67px;background:#050505;color:#aaa"><i>KD_UD</i></div><div class="btab" style="left:856px;width:75px;background:#050505;color:#aaa"><i>KDJ_UD</i></div><div class="btab" style="left:933px;width:40px;background:#050505;color:#aaa"><i>&gt;&gt;</i></div>
<div id="cover"></div>
<svg style="position:absolute;left:0;top:0" width="1212" height="651" viewBox="0 0 1212 651"><rect x="841.7" y="631.6" width="6.6" height="1.4" fill="#cfcfcf"/><rect x="851.7" y="631.6" width="7.5" height="1.4" fill="#cfcfcf"/><rect x="866.7" y="631.6" width="6.6" height="1.4" fill="#cfcfcf"/><rect x="877.5" y="631.6" width="6.7" height="1.4" fill="#cfcfcf"/><rect x="902" y="631.6" width="6.3" height="1.4" fill="#cfcfcf"/><rect x="910.5" y="631.6" width="7.8" height="1.4" fill="#cfcfcf"/><rect x="927" y="631.6" width="6.8" height="1.4" fill="#cfcfcf"/><rect x="937.5" y="631.6" width="7.5" height="1.4" fill="#cfcfcf"/><rect x="963.3" y="631.6" width="7.5" height="1.4" fill="#cfcfcf"/><rect x="973.3" y="631.6" width="7.5" height="1.4" fill="#cfcfcf"/><rect x="989.2" y="631.6" width="6.6" height="1.4" fill="#cfcfcf"/><rect x="999.2" y="631.6" width="6.6" height="1.4" fill="#cfcfcf"/><rect x="1024" y="631.6" width="2.0" height="1.4" fill="#cfcfcf"/></svg>
<div class="tb" style="left:1012px"><svg width="21" height="21" viewBox="0 0 21 21"><path d="M10.6 5.4V8.8M10.6 11.6V13.6M10.6 16.2V19.8M3.3 12.6H7.2M13.9 12.6H18" stroke="#a8a8a8" stroke-width="2.3" fill="none" transform="translate(0,-2)"/></svg></div>
<div class="tb" style="left:1036px"><svg width="21" height="21" viewBox="0 0 21 21"><g stroke="#b0b0b0" fill="none" stroke-width="1.3"><path d="M5.3 4V18M3.6 15.8H18"/><path d="M9.8 4.6V13.4" stroke-width="1.7"/></g><path d="M5.3 3L7 5.6H3.6ZM5.3 18.6L3.6 16.2H7ZM18.4 15.8L16 14.1V17.5ZM3 15.8L5 14.3V17.3ZM11.4 9L14.8 4.8V13.2Z" fill="#b0b0b0"/></svg></div>
<div class="tb" style="left:1060px;border-color:#1b80d6"><svg width="21" height="21" viewBox="0 0 21 21"><g stroke="#1b80d6" fill="none" stroke-width="1.3"><path d="M5.4 4V18M3.6 15.8H18"/></g><path d="M5.4 3L7.1 5.6H3.7ZM5.4 18.6L3.7 16.2H7.1ZM18.4 15.8L16 14.1V17.5ZM3 15.8L5 14.3V17.3ZM9.3 5L17 9.7L9.3 14.3Z" fill="#1b80d6"/></svg></div>
<div class="tb" style="left:1084px"><svg width="21" height="21" viewBox="0 0 21 21"><rect x="3.6" y="3.4" width="4.6" height="14.2" fill="none" stroke="#b0b0b0" stroke-width="1.4"/><path d="M6 10.2H14" stroke="#b0b0b0" stroke-width="2.4"/><path d="M12 6.2L17.4 10.2L12 14.2Z" fill="#b0b0b0"/></svg></div>
<div id="logo">CPQG.COM</div>
<div id="wm">FX678</div>
</body>
</html>
